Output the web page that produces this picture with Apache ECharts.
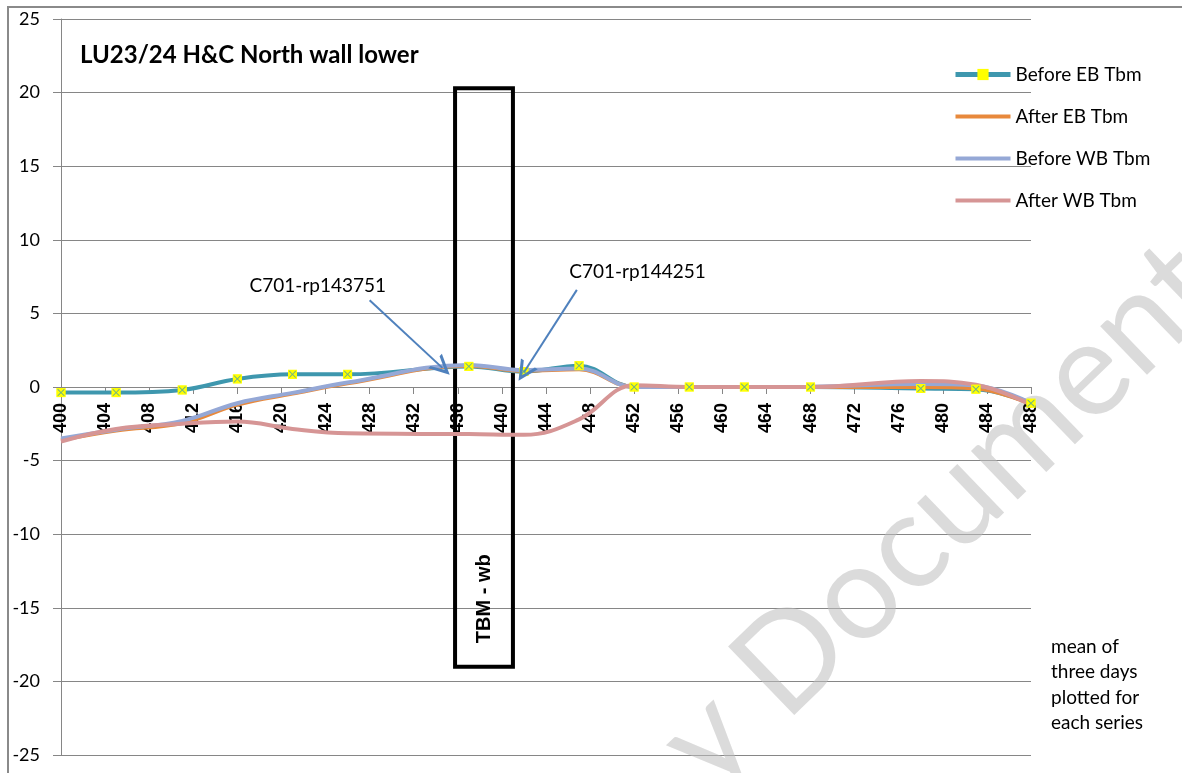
<!DOCTYPE html>
<html>
<head>
<meta charset="utf-8">
<script src="https://cdn.jsdelivr.net/npm/echarts@6/dist/echarts.min.js"></script>
<style>html,body{margin:0;padding:0;background:#fff}#c{width:1182px;height:773px}</style>
</head>
<body>
<div id="c"></div>
<script>
// ---- data ----
const chainage = [400, 405, 411, 416, 421, 426, 437, 442, 447, 452, 457, 462, 468, 478, 483, 488];
const beforeEB = [-0.38, -0.38, -0.2, 0.55, 0.86, 0.86, 1.4, 1.05, 1.45, 0, 0, 0, 0, -0.1, -0.15, -1.1];
const afterEB  = [-3.6, -2.95, -2.45, -1.2, -0.45, 0.25, 1.45, 1.1, 1.2, 0, 0, 0, 0, 0, -0.1, -1.15];
const beforeWB = [-3.5, -2.9, -2.3, -1.1, -0.4, 0.3, 1.5, 1.15, 1.25, 0, 0, 0, 0.02, 0.2, 0.1, -1.1];
const afterWB  = [-3.7, -2.85, -2.5, -2.35, -2.85, -3.15, -3.2, -3.25, -2.2, 0.12, 0, 0, 0, 0.4, 0.15, -1.2];
const seriesNames = ['Before EB Tbm', 'After EB Tbm', 'Before WB Tbm', 'After WB Tbm'];
const titleText = 'LU23/24 H&C North wall lower';
const boxText = 'TBM - wb';
const boxCorners = [[435.75, 20.3], [441, -19]];
const arrowLabels = ['C701-rp143751', 'C701-rp144251'];
const arrowLines = [[[428, 5.9], [434.6, 1.3]], [[446.8, 6.6], [442.0, 1.0]]];
const labelAnchors = [[423.3, 6.9], [452.3, 7.8]];
const noteText = 'mean of\nthree days\nplotted for\neach series';

const pairs = arr => chainage.map((x, i) => [x, arr[i]]);
const chart = echarts.init(document.getElementById('c'), null, {renderer: 'canvas'});
const teal = '#3E97AE', orange = '#E8893C', lav = '#95A8D6', pink = '#D69595';
// thin horizontal bar icon (tiny corner specks keep the bar vertically centred)
const barIcon = 'path://M0,0L0.01,0L0,0.01Z M0,5H55V9H0Z M55,14L54.99,14L55,13.99Z';
const chevron = 'path://M5,0L10,10L8.3,10L5,3.4L1.7,10L0,10Z';

const option = {
  animation: false,
  backgroundColor: '#fff',
  title: {text: titleText, left: 80, top: 43, padding: 0,
    textStyle: {fontFamily: 'Lato', fontWeight: 'bold', fontSize: 24, color: '#000'}},
  legend: {
    data: [
      {name: seriesNames[0]},
      {name: seriesNames[1], icon: barIcon},
      {name: seriesNames[2], icon: barIcon},
      {name: seriesNames[3], icon: barIcon}
    ],
    orient: 'vertical', left: 953, top: 65, padding: 0,
    itemWidth: 55, itemHeight: 14, itemGap: 23,
    lineStyle: {width: 5},
    textStyle: {fontFamily: 'Lato', fontSize: 19, lineHeight: 16, color: '#000'}
  },
  grid: {left: 61, right: 151, top: 19, bottom: 18, outerBoundsMode: 'none', containLabel: false},
  xAxis: {
    type: 'value', min: 400, max: 488, interval: 4, position: 'bottom', offset: -368,
    axisLine: {onZero: false, lineStyle: {color: '#868686', width: 1}},
    axisTick: {show: true, length: 7, lineStyle: {color: '#868686'}},
    splitLine: {show: false},
    axisLabel: {rotate: 90, margin: 16, fontFamily: 'Liberation Sans', fontWeight: 'bold', fontSize: 18, color: '#000'}
  },
  yAxis: {
    type: 'value', min: -25, max: 25, interval: 5,
    axisLine: {show: true, onZero: false, lineStyle: {color: '#868686', width: 1}},
    axisTick: {show: true, length: 8, lineStyle: {color: '#868686'}},
    splitLine: {show: true, lineStyle: {color: '#868686', width: 1}},
    axisLabel: {margin: 21, fontFamily: 'Lato', fontSize: 18, color: '#000'}
  },
  series: [
    {name: seriesNames[0], type: 'line', smooth: 0.4, data: pairs(beforeEB),
     symbol: 'rect', symbolSize: 9, itemStyle: {color: '#FFFF00'},
     lineStyle: {color: teal, width: 4}, z: 2},
    {name: seriesNames[1], type: 'line', smooth: 0.4, data: pairs(afterEB),
     symbol: 'none', itemStyle: {color: orange}, lineStyle: {color: orange, width: 4}, z: 2},
    {name: seriesNames[2], type: 'line', smooth: 0.4, data: pairs(beforeWB),
     symbol: 'none', itemStyle: {color: lav}, lineStyle: {color: lav, width: 4}, z: 2},
    {name: seriesNames[3], type: 'line', smooth: 0.4, data: pairs(afterWB),
     symbol: 'none', itemStyle: {color: pink}, lineStyle: {color: pink, width: 4}, z: 2},
    {name: seriesNames[0], type: 'scatter', data: pairs(beforeEB), symbol: 'rect', symbolSize: 9,
     itemStyle: {color: '#FFFF00'}, z: 4, silent: true},
    {name: seriesNames[0], type: 'scatter', data: pairs(beforeEB),
     symbol: 'path://M0,0L1,0L5,4L9,0L10,0L10,1L6,5L10,9L10,10L9,10L5,6L1,10L0,10L0,9L4,5L0,1Z',
     symbolSize: 7, itemStyle: {color: '#4FA3A0'}, z: 5, silent: true},
    {type: 'line', data: [], z: 6,
     markArea: {silent: true,
       itemStyle: {color: 'rgba(0,0,0,0)', borderColor: '#000', borderWidth: 4},
       label: {show: true, position: ['50%', '88%'], rotate: 90, align: 'center', verticalAlign: 'middle',
         formatter: boxText, fontFamily: 'Liberation Sans', fontWeight: 'bold', fontSize: 20, color: '#000'},
       data: [[{coord: boxCorners[0]}, {coord: boxCorners[1]}]]},
     markLine: {silent: true, symbol: ['none', chevron], symbolSize: [20, 20],
       lineStyle: {color: '#4F81BD', width: 2, type: 'solid'}, itemStyle: {color: '#4F81BD'}, label: {show: false},
       data: arrowLines.map(l => [{coord: l[0]}, {coord: l[1]}])}
    }
  ]
};
chart.setOption(option);

const lbls = labelAnchors.map((a, i) => {
  const p = chart.convertToPixel({gridIndex: 0}, a);
  return {type: 'text', x: p[0], y: p[1], z: 10,
    style: {text: arrowLabels[i], fontFamily: 'Lato', fontSize: 19, fill: '#000', align: 'center', verticalAlign: 'middle'}};
});
chart.setOption({graphic: [
  {type: 'rect', shape: {x: 8, y: 7, width: 1300, height: 900}, style: {fill: 'none', stroke: '#8A8A8A', lineWidth: 2}, z: 10, silent: true},
  {type: 'text', x: 1051, y: 634, z: 10,
   style: {text: noteText, fontFamily: 'Lato', fontSize: 19, lineHeight: 25.5, fill: '#000'}},
  {type: 'text', x: 682, y: 764, rotation: Math.PI * 44 / 180, z: 0, silent: true,
   style: {text: 'y Document', fontFamily: 'Lato', fontSize: 133, fill: 'rgba(190,190,190,0.55)', align: 'left', verticalAlign: 'middle'}}
].concat(lbls)});
</script>
</body>
</html>
